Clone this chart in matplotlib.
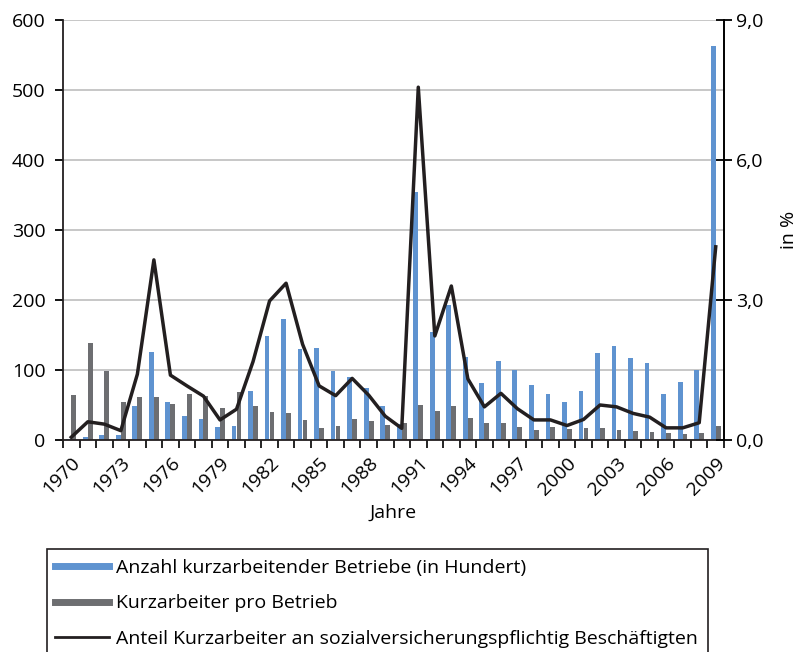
import numpy as np
import matplotlib.pyplot as plt
from matplotlib.lines import Line2D
from matplotlib.patches import Rectangle
from matplotlib.ticker import FuncFormatter, FixedLocator

plt.rcParams['font.family'] = ['Open Sans', 'DejaVu Sans']

years = list(range(1970, 2010))

# Anzahl kurzarbeitender Betriebe (in Hundert)
betriebe = [2, 5, 7, 7, 48, 126, 55, 34, 30, 19,
            20, 70, 149, 173, 130, 131, 99, 90, 74, 49,
            23, 354, 154, 193, 118, 81, 113, 100, 79, 66,
            54, 70, 125, 134, 117, 110, 66, 83, 100, 563]

# Kurzarbeiter pro Betrieb
pro_betrieb = [64, 139, 98, 55, 62, 62, 51, 66, 63, 46,
               69, 49, 40, 39, 29, 17, 20, 30, 27, 21,
               24, 50, 41, 49, 31, 24, 24, 19, 14, 19,
               16, 17, 17, 14, 13, 11, 10, 9, 10, 20]

# Anteil Kurzarbeiter an sozialversicherungspflichtig Beschaeftigten (in %)
anteil = [0.06, 0.39, 0.34, 0.20, 1.41, 3.86, 1.39, 1.16, 0.94, 0.43,
          0.66, 1.68, 2.98, 3.36, 2.05, 1.16, 0.95, 1.32, 0.96, 0.51,
          0.25, 7.56, 2.23, 3.30, 1.31, 0.71, 1.00, 0.67, 0.43, 0.43,
          0.31, 0.44, 0.75, 0.71, 0.57, 0.49, 0.26, 0.26, 0.37, 4.14]

labels = ['Anzahl kurzarbeitender Betriebe (in Hundert)',
          'Kurzarbeiter pro Betrieb',
          'Anteil Kurzarbeiter an sozialversicherungspflichtig Beschäftigten']

blue = '#5f93d0'
grey = '#6d6e71'
black = '#231f20'
fs = 14

W, H = 806, 652
fig = plt.figure(figsize=(W / 100, H / 100), dpi=100)
ax = fig.add_axes([63 / W, 1 - 440 / H, (724 - 63) / W, (440 - 20) / H])

x = np.arange(len(years))
bw = 0.29
ax.bar(x - 0.155, betriebe, width=bw, color=blue, zorder=2)
ax.bar(x + 0.145, pro_betrieb, width=bw, color=grey, zorder=2)

ax.set_xlim(-0.5, len(years) - 0.5)
ax.set_ylim(0, 600)
ax.set_yticks(range(0, 601, 100))
ax.yaxis.grid(True, color='#c3c3c3', lw=1.3)
ax.set_axisbelow(True)
ax.spines['top'].set_visible(False)
for s in ['left', 'bottom', 'right']:
    ax.spines[s].set_linewidth(1.3)
    ax.spines[s].set_color(black)

ax.tick_params(axis='y', direction='out', length=5.5, width=1.3, labelsize=fs, pad=7)

# category boundary ticks, labels every 3 years
ax.xaxis.set_minor_locator(FixedLocator(np.arange(-0.5, len(years), 1)))
ax.set_xticks(x[::3])
ax.set_xticklabels([str(y) for y in years[::3]], rotation=45, ha='right',
                   rotation_mode='anchor', fontsize=fs)
ax.tick_params(axis='x', which='major', length=0, pad=10)
ax.tick_params(axis='x', which='minor', direction='out', length=5.5, width=1.2)
ax.set_xlabel('Jahre', fontsize=fs, labelpad=4)

ax2 = ax.twinx()
ax2.plot(x, anteil, color=black, lw=2.5, zorder=3)
ax2.set_ylim(0, 9)
ax2.set_yticks([0, 3, 6, 9])
ax2.yaxis.set_major_formatter(FuncFormatter(lambda v, p: f'{v:.1f}'.replace('.', ',')))
ax2.tick_params(axis='y', direction='inout', length=11, width=1.3, labelsize=fs, pad=3)
ax2.set_ylabel('in %', fontsize=fs, labelpad=12)
for s in ['top', 'left', 'bottom']:
    ax2.spines[s].set_visible(False)
ax2.spines['right'].set_linewidth(1.3)

# legend box running off the bottom edge
fig.patches.append(Rectangle((47 / W, -0.05), (708 - 47) / W, 1 - 549 / H + 0.05,
                             transform=fig.transFigure, fill=False,
                             edgecolor=black, lw=1.2))
handles = [Line2D([], [], color=blue, lw=5),
           Line2D([], [], color=grey, lw=5),
           Line2D([], [], color=black, lw=2)]
fig.legend(handles, labels, loc='upper left', bbox_to_anchor=(55 / W, 1 - 559 / H),
           frameon=False, fontsize=14, handlelength=2.8, handletextpad=0.36,
           labelspacing=0.9, borderpad=0, borderaxespad=0)

fig.savefig('out.png', dpi=100)
